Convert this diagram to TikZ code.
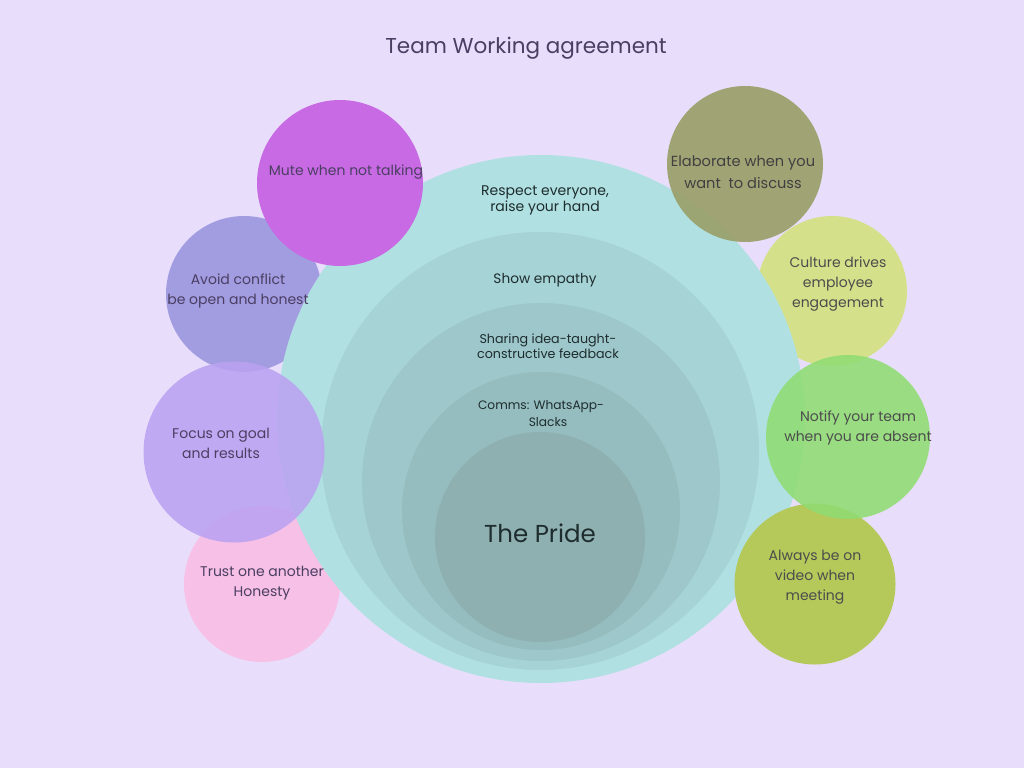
\documentclass[tikz,border=0pt]{standalone}
\usepackage{fontspec}
\setmainfont{Poppins}
\begin{document}
\begin{tikzpicture}[x=1pt,y=-1pt,
  blob/.style={circle,inner sep=0pt,minimum size=#1},
  lbl/.style={align=center,text=lblcol,font=\fontsize{14}{20}\selectfont},
  inner/.style={align=center,text=innercol,font=\fontsize{14}{16}\selectfont}]
\definecolor{bg}{HTML}{E8DEFC}
\definecolor{lblcol}{HTML}{4A3F62}
\definecolor{innercol}{HTML}{1E2C2E}
\definecolor{ringA}{HTML}{B0E0E1}
\definecolor{ringB}{HTML}{A6D3D6}
\definecolor{ringC}{HTML}{9DC7CA}
\definecolor{ringD}{HTML}{95BCBE}
\definecolor{ringE}{HTML}{8EB0B0}
\definecolor{cMute}{HTML}{C86AE3}
\definecolor{cAvoid}{HTML}{A29CE0}
\definecolor{cFocus}{HTML}{BBA2F2}
\definecolor{cTrust}{HTML}{F7C0E6}
\definecolor{cElab}{HTML}{9AA06A}
\definecolor{cCult}{HTML}{D5E18A}
\definecolor{cNotify}{HTML}{8FDC72}
\definecolor{cAlways}{HTML}{B4C95A}
% page
\fill[bg] (0,0) rectangle (1024,768);
\useasboundingbox (0,0) rectangle (1024,768);
\node[text=lblcol,font=\fontsize{21.5}{24}\selectfont] (title) at (526,48) {Team Working agreement};
% circles lying under the rings
\node[blob=156,fill=cAvoid] (avoid) at (244,294) {};
\node[blob=150,fill=cCult] (culture) at (832,291) {};
\node[blob=156,fill=cTrust] (trust) at (262,584) {};
% concentric rings
\node[blob=528,fill=ringA] (ringA) at (541,419) {};
\node[blob=438,fill=ringB] (ringB) at (540,451) {};
\node[blob=358,fill=ringC] (ringC) at (541,482) {};
\node[blob=278,fill=ringD] (ringD) at (541,511) {};
\node[blob=210,fill=ringE] (ringE) at (540,537) {};
% circles lying over the rings
\node[blob=166,fill=cMute] (mute) at (340,183) {};
\node[blob=156,fill=cElab,fill opacity=0.92] (elab) at (745,164) {};
\node[blob=181,fill=cFocus,fill opacity=0.88] (focus) at (234,452) {};
\node[blob=161,fill=cAlways] (always) at (815,584) {};
\node[blob=164,fill=cNotify,fill opacity=0.88] (notify) at (848,437) {};
% ring texts
\node[inner] (t1) at (545,200) {Respect everyone,\\raise your hand};
\node[inner,font=\fontsize{13.7}{16}\selectfont] (t2) at (545,280) {Show empathy};
\node[inner,font=\fontsize{12.7}{15}\selectfont] (t3) at (548,346) {Sharing idea-taught-\\constructive feedback};
\node[inner,font=\fontsize{12.2}{17}\selectfont] (t4) at (541,414) {Comms: WhatsApp-\\\hspace*{14pt}Slacks};
\node[inner,font=\fontsize{24.5}{28}\selectfont] (t5) at (540,533) {The Pride};
% circle texts
\node[lbl] (l1) at (346,172) {Mute when not talking};
\node[lbl] (l2) at (238,291) {Avoid conflict\\be open and honest};
\node[lbl] (l3) at (221,443) {Focus on goal\\and results};
\node[lbl] (l4) at (262,583) {Trust one another\\Honesty};
\node[lbl,text=black!75,font=\fontsize{14.6}{22}\selectfont] (l5) at (743,172) {Elaborate when you\\want\ \ to discuss};
\node[lbl,text=black!70] (l6) at (838,284) {Culture drives\\employee\\engagement};
\node[lbl,text=black!70] (l7) at (858,428) {Notify your team\\when you are absent};
\node[lbl,text=black!70] (l8) at (815,577) {Always be on\\video when\\meeting};
\end{tikzpicture}
\end{document}
